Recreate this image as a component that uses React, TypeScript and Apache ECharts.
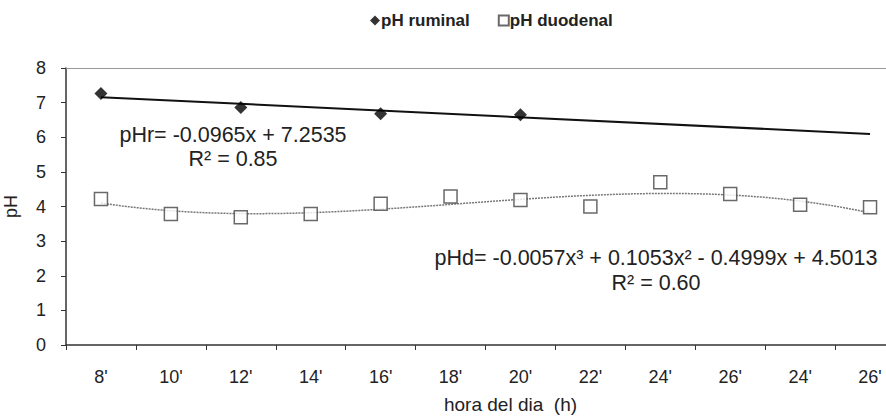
import React, { useEffect, useRef } from "react";
import * as echarts from "echarts";

const categories = ["8'", "10'", "12'", "14'", "16'", "18'", "20'", "22'", "24'", "26'", "24'", "26'"];
const ruminalX = [1, 3, 5, 7];
const ruminalValues = [7.26, 6.86, 6.68, 6.65];
const duodenalX = [1, 2, 3, 4, 5, 6, 7, 8, 9, 10, 11, 12];
const duodenalValues = [4.22, 3.78, 3.69, 3.78, 4.08, 4.29, 4.19, 4.0, 4.7, 4.36, 4.05, 3.98];
const linearCoef = [-0.0965, 7.2535];
const cubicCoef = [-0.0057, 0.1053, -0.4999, 4.5013];
const trendRange = [1, 12];

const FONT = "'Liberation Sans', Arial, sans-serif";

export default function App() {
  const ref = useRef<HTMLDivElement>(null);
  useEffect(() => {
    if (!ref.current) return;
    const chart = echarts.init(ref.current, undefined, { renderer: "svg" });
    const linLine = trendRange.map((x) => [x, linearCoef[0] * x + linearCoef[1]]);
    const cubLine: number[][] = [];
    for (let i = 0; i <= 110; i++) {
      const x = trendRange[0] + i * 0.1;
      const y = cubicCoef[0] * x * x * x + cubicCoef[1] * x * x + cubicCoef[2] * x + cubicCoef[3];
      cubLine.push([x, y]);
    }
    const eqStyle = {
      fontSize: 21.5,
      fontFamily: FONT,
      fill: "#222",
      align: "center",
      verticalAlign: "middle",
    };
    chart.setOption({
      animation: false,
      textStyle: { fontFamily: FONT },
      legend: {
        left: 365,
        top: 7,
        itemWidth: 10,
        itemHeight: 10,
        itemGap: 28,
        textStyle: { fontSize: 17, fontWeight: "bold", color: "#222", fontFamily: FONT, padding: [0, 0, 0, -4] },
        data: [
          { name: "pH ruminal", icon: "diamond" },
          { name: "pH duodenal", icon: "rect" },
        ],
      },
      grid: { left: 66, right: -19, top: 68, bottom: 74, outerBoundsMode: "none" },
      xAxis: [
        {
          type: "category",
          data: categories,
          boundaryGap: true,
          axisLine: { lineStyle: { color: "#333", width: 1.5 } },
          axisTick: { show: true, length: 5, lineStyle: { color: "#333" } },
          axisLabel: { fontSize: 18, color: "#222", margin: 23, fontFamily: FONT },
          name: "hora del dia  (h)",
          nameLocation: "middle",
          nameGap: 50,
          nameTextStyle: { fontSize: 19, color: "#222", padding: [0, 0, 0, 50], fontFamily: FONT },
        },
        { type: "value", min: 0.5, max: 12.5, show: false },
      ],
      yAxis: {
        type: "value",
        min: 0,
        max: 8,
        interval: 1,
        axisLine: { show: true, lineStyle: { color: "#333", width: 1.5 } },
        axisTick: { show: true, length: 5, lineStyle: { color: "#333" } },
        splitLine: { show: false },
        axisLabel: { fontSize: 18, color: "#222", margin: 20, fontFamily: FONT },
        name: "pH",
        nameLocation: "middle",
        nameGap: 46,
        nameRotate: 90,
        nameTextStyle: { fontSize: 18, color: "#222", fontFamily: FONT },
      },
      series: [
        {
          name: "trend ruminal",
          type: "line",
          xAxisIndex: 1,
          data: linLine,
          showSymbol: false,
          symbol: "none",
          lineStyle: { color: "#111", width: 2 },
          z: 2,
          markLine: {
            silent: true,
            symbol: "none",
            label: { show: false },
            lineStyle: { color: "#999", width: 1, type: "solid" },
            data: [{ yAxis: 8 }],
          },
        },
        {
          name: "trend duodenal",
          type: "line",
          xAxisIndex: 1,
          data: cubLine,
          showSymbol: false,
          symbol: "none",
          lineStyle: { color: "#777", width: 1.5, type: [2, 1] },
          z: 2,
        },
        {
          name: "pH ruminal",
          type: "scatter",
          xAxisIndex: 1,
          data: ruminalX.map((x, i) => [x, ruminalValues[i]]),
          symbol: "diamond",
          symbolSize: 13,
          itemStyle: { color: "#000" },
          z: 3,
        },
        {
          name: "pH duodenal",
          type: "scatter",
          xAxisIndex: 1,
          data: duodenalX.map((x, i) => [x, duodenalValues[i]]),
          symbol: "rect",
          symbolSize: 13,
          itemStyle: { color: "#fff", borderColor: "#444", borderWidth: 1.5 },
          z: 3,
        },
      ],
      graphic: [
        { type: "text", x: 233, y: 135, style: { ...eqStyle, text: "pHr= -0.0965x + 7.2535" } },
        { type: "text", x: 233, y: 159, style: { ...eqStyle, text: "R² = 0.85" } },
        {
          type: "text",
          x: 656,
          y: 258,
          style: { ...eqStyle, text: "pHd= -0.0057x³ + 0.1053x² - 0.4999x + 4.5013" },
        },
        { type: "text", x: 656, y: 283, style: { ...eqStyle, text: "R² = 0.60" } },
      ],
    });
    return () => chart.dispose();
  }, []);
  return (
    <div
      ref={ref}
      style={{ position: "absolute", left: 0, top: 0, width: 886, height: 419, background: "#fff" }}
    />
  );
}
